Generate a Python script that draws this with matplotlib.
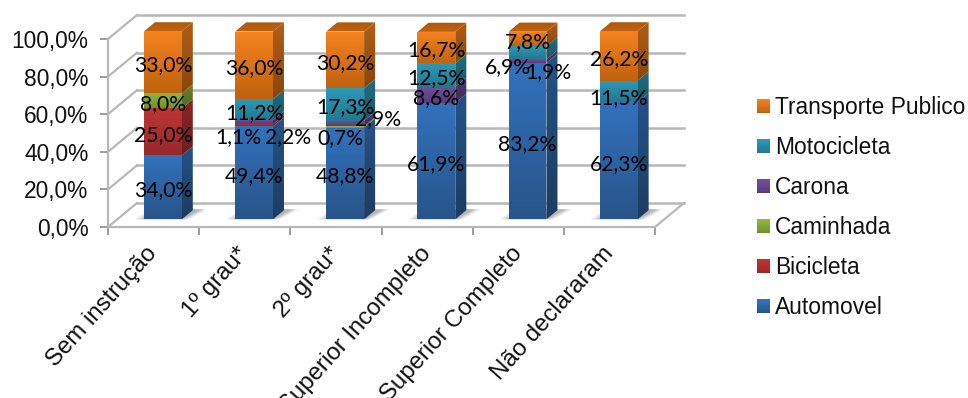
import matplotlib
matplotlib.use("Agg")
import matplotlib.pyplot as plt
import numpy as np
from matplotlib.legend_handler import HandlerBase
from matplotlib.patches import Polygon, Rectangle
from matplotlib.transforms import ScaledTranslation

plt.rcParams['font.family'] = ['Liberation Sans', 'DejaVu Sans']

categorias = ["Sem instrução", "1º grau*", "2º grau*", "Superior Incompleto",
              "Superior Completo", "Não declararam"]
automovel = [34.0, 49.4, 48.8, 61.9, 83.2, 62.3]
bicicleta = [25.0, 1.1, 0.0, 0.0, 0.0, 0.0]
caminhada = [8.0, 0.0, 0.7, 0.0, 0.0, 0.0]
carona = [0.0, 2.2, 2.9, 8.6, 1.9, 0.0]
motocicleta = [0.0, 11.2, 17.3, 12.5, 6.9, 11.5]
transporte = [33.0, 36.0, 30.2, 16.7, 7.8, 26.2]

nomes = ["Automovel", "Bicicleta", "Caminhada", "Carona", "Motocicleta", "Transporte Publico"]
series = [automovel, bicicleta, caminhada, carona, motocicleta, transporte]

# cor clara (topo) e cor escura (base) de cada serie
cores = [("#3272bc", "#28548a"), ("#c03434", "#962a2a"), ("#96b83e", "#70902c"),
         ("#70509c", "#573c7c"), ("#2c9ab8", "#24788f"), ("#f5831f", "#c0620f")]

# rotulos que saem do centro do segmento (dx, dy em pixels)
desvios = {(1, 1): (-16, -9), (1, 3): (34, -12), (2, 2): (-5, -8), (2, 3): (33, 7),
           (4, 3): (21, -8), (4, 4): (-20, -11), (5, 4): (0, -4)}

W, H = 968, 398
fig = plt.figure(figsize=(W / 100, H / 100), dpi=100)
ax = fig.add_axes([108 / W, 1 - 227 / H, 547 / W, 188 / H])
ax.set_xlim(0, 6)
ax.set_ylim(0, 100)

# profundidade do grafico 3D em unidades de dados
DX = 29 / (547 / 6)
DY = 24 / 1.88
COR_GRADE = "#b8b8b8"


def proj(x, y, d):
    return x + d * DX, y + d * DY


def face(pontos, cor_a, cor_b, z=3):
    # preenche um poligono com gradiente vertical
    pontos = np.array(pontos)
    grad = np.linspace(0, 1, 64)[:, None, None]
    a = np.array(matplotlib.colors.to_rgb(cor_a))
    b = np.array(matplotlib.colors.to_rgb(cor_b))
    img = a * (1 - grad) + b * grad
    extent = [pontos[:, 0].min(), pontos[:, 0].max(), pontos[:, 1].min(), pontos[:, 1].max()]
    im = ax.imshow(img, extent=extent, aspect="auto", origin="upper", zorder=z,
                   interpolation="bilinear")
    poly = Polygon(pontos, transform=ax.transData)
    im.set_clip_box(fig.bbox)
    im.set_clip_path(poly)


def escurece(cor, f):
    return tuple(np.array(matplotlib.colors.to_rgb(cor)) * f)


# grade das paredes e do chao
for v in range(0, 101, 20):
    x0, y0 = proj(0, v, 1)
    x1, y1 = proj(6, v, 1)
    ax.plot([0, x0], [v, y0], color=COR_GRADE, lw=1.6, clip_on=False, zorder=1)
    ax.plot([x0, x1], [y0, y1], color=COR_GRADE, lw=1.8, clip_on=False, zorder=1)
x1, y1 = proj(6, 0, 1)
ax.plot([6, x1], [0, y1], color=COR_GRADE, lw=1.6, clip_on=False, zorder=1)

d0, d1 = 0.32, 0.70
larg = 0.415

for i in range(len(categorias)):
    esq = i + 0.5 - larg / 2
    dir_ = i + 0.5 + larg / 2

    # sombra no chao
    for k, alfa in zip([0.10, 0.07, 0.04, 0.01], [0.10, 0.14, 0.18, 0.22]):
        xa, ya = proj(esq - k, 0, d0)
        xb, yb = proj(dir_ + k * 0.8, 0, d0)
        xc, yc = proj(dir_ + k * 0.8 + 0.07, 0, d1 + 0.04)
        xd, yd = proj(esq + 0.03 - k, 0, d1 + 0.04)
        ax.add_patch(Polygon([(xa, ya), (xb, yb), (xc, yc), (xd, yd)], fc="#707070", ec="none",
                             alpha=alfa, zorder=2, clip_on=False))

    base = 0.0
    topo_cor = None
    for j, s in enumerate(series):
        v = s[i]
        if v <= 0:
            continue
        c_a, c_b = cores[j]
        frente = [proj(esq, base, d0), proj(dir_, base, d0),
                  proj(dir_, base + v, d0), proj(esq, base + v, d0)]
        lado = [proj(dir_, base, d0), proj(dir_, base, d1),
                proj(dir_, base + v, d1), proj(dir_, base + v, d0)]
        face(lado, escurece(c_a, 0.72), escurece(c_b, 0.72), z=3)
        face(frente, c_a, c_b, z=4)
        base += v
        topo_cor = c_b
    topo = [proj(esq, base, d0), proj(dir_, base, d0), proj(dir_, base, d1), proj(esq, base, d1)]
    face(topo, escurece(topo_cor, 0.9), topo_cor, z=4)

# rotulos de dados
for i in range(len(categorias)):
    base = 0.0
    for j, s in enumerate(series):
        v = s[i]
        if v <= 0:
            continue
        dx, dy = desvios.get((i, j), (0, 0))
        xt, yt = proj(i + 0.5, base + v / 2, d0)
        ax.annotate(f"{v:.1f}%".replace(".", ","), (xt, yt), xytext=(dx, dy - 3),
                    textcoords="offset pixels", ha="center", va="center", fontsize=15.2,
                    family=["Lato", "DejaVu Sans"], color="black", zorder=6,
                    annotation_clip=False)
        base += v

# eixos
for lado_ in ["top", "right"]:
    ax.spines[lado_].set_visible(False)
for lado_ in ["left", "bottom"]:
    ax.spines[lado_].set_color(COR_GRADE)
    ax.spines[lado_].set_linewidth(1.6)
ax.patch.set_visible(False)
ax.set_yticks(range(0, 101, 20))
ax.set_yticklabels([f"{v},0%" for v in range(0, 101, 20)], fontsize=16.4, color="#111111")
ax.set_xticks(range(7))
ax.set_xticklabels([])
ax.set_xticks(np.arange(6) + 0.5, minor=True)
ax.set_xticklabels(categorias, minor=True, rotation=48, ha="right", va="top",
                   rotation_mode="anchor", fontsize=17.3, color="#111111")
ax.tick_params(axis="both", which="major", color="#8c8c8c", length=6, width=1.2)
ax.tick_params(axis="y", which="major", pad=8)
ax.tick_params(axis="x", which="minor", length=0, pad=11.5)
desloca = ScaledTranslation(-8 / 100, 0, fig.dpi_scale_trans)
for rotulo in ax.get_xticklabels(minor=True):
    rotulo.set_transform(rotulo.get_transform() + desloca)


class Amostra(HandlerBase):
    # quadrado da legenda com gradiente vertical
    def create_artists(self, legend, orig, xd, yd, width, height, fontsize, trans):
        c_a, c_b = orig.cores
        n = 12
        artistas = []
        for k in range(n):
            t = k / (n - 1)
            cor = np.array(matplotlib.colors.to_rgb(c_b)) * (1 - t) + np.array(matplotlib.colors.to_rgb(c_a)) * t
            artistas.append(Rectangle((xd * -1, -yd + height * k / n), width, height / n + 0.2,
                                      fc=cor, ec="none", transform=trans))
        return artistas


handles = []
for c in cores:
    r = Rectangle((0, 0), 1, 1)
    r.cores = c
    handles.append(r)

leg = fig.legend(handles[::-1], nomes[::-1], handler_map={Rectangle: Amostra()},
                 loc="upper left", bbox_to_anchor=(757 / W, 1 - 96 / H), frameon=False,
                 fontsize=16.4, borderpad=0, borderaxespad=0, handlelength=0.58,
                 handleheight=0.58, handletextpad=0.22, labelspacing=0.75)
for t in leg.get_texts():
    t.set_color("#111111")

fig.savefig("out.png", dpi=100)
